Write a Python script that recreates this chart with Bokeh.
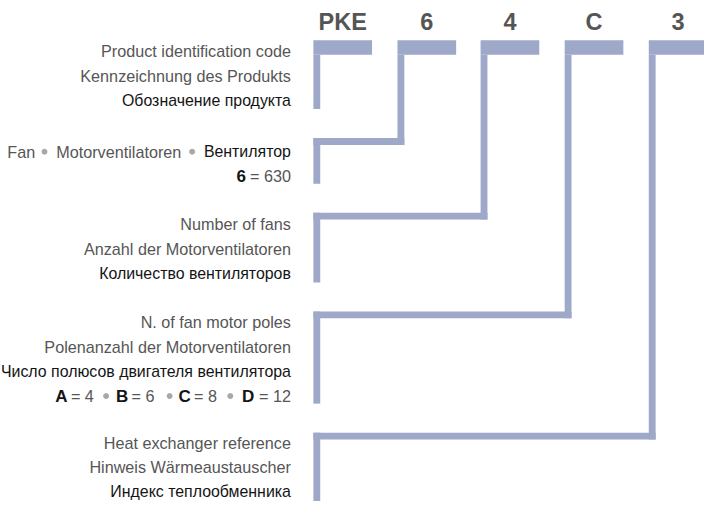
from bokeh.plotting import figure
from bokeh.models import Range1d
from bokeh.core.properties import value
from bokeh.embed import file_html
from bokeh.resources import INLINE

# ---- content ----
codes = ["PKE", "6", "4", "C", "3"]
desc_en = ["Product identification code", None, "Number of fans",
           "N. of fan motor poles", "Heat exchanger reference"]
desc_de = ["Kennzeichnung des Produkts", None, "Anzahl der Motorventilatoren",
           "Polenanzahl der Motorventilatoren", "Hinweis Wärmeaustauscher"]
desc_ru = ["Обозначение продукта", None, "Количество вентиляторов",
           "Число полюсов двигателя вентилятора", "Индекс теплообменника"]
fan_words = ["Fan", "Motorventilatoren", "Вентилятор"]
fan_size_key = ["6", "= 630"]
pole_keys = ["A", "B", "C", "D"]
pole_vals = ["= 4", "= 6", "= 8", "= 12"]

# ---- layout (reference pixel units) ----
BAR = "#9ea8c8"
GRAY = "#565656"
DARK = "#141414"
DOT = "#a8a8a8"
FONT = "Liberation Sans"
FS_L = "16.2px"   # latin light lines
FS_R = "15.9px"   # cyrillic lines
FS_B = "17px"     # bold keys

col_x = [320, 406, 491, 577, 663]
bar_w, bar_top, bar_bot, th = 60, 41, 56, 7
conn_y = [None, 142, 219, 321, 446]
end_y = [112, 189, 291, 416, 530]
group_y = [52, 156, 231, 332, 457]
pitch = [25.4, 25.4, 25.4, 25.4, 24.6]
text_right = 297

p = figure(width=704, height=501, output_backend="svg", toolbar_location=None,
           x_range=Range1d(0, 720), y_range=Range1d(517, 0), min_border=0)
p.axis.visible = False
p.grid.visible = False
p.outline_line_color = None
p.background_fill_color = "white"
p.border_fill_color = "white"

# bars
L, R, T, B = [], [], [], []
for i, cx in enumerate(col_x):
    L.append(cx); R.append(cx + bar_w); T.append(bar_top); B.append(bar_bot)
    if i == 0:
        L.append(320); R.append(320 + th); T.append(bar_bot); B.append(end_y[0])
    else:
        L.append(cx); R.append(cx + th); T.append(bar_bot); B.append(conn_y[i] + th)
        L.append(320); R.append(cx + th); T.append(conn_y[i]); B.append(conn_y[i] + th)
        L.append(320); R.append(320 + th); T.append(conn_y[i]); B.append(end_y[i])
p.quad(left=L, right=R, top=T, bottom=B, fill_color=BAR, line_color=None)

# code letters
p.text(x=[c + bar_w / 2 for c in col_x], y=[22] * 5, text=codes,
       text_font=value(FONT), text_font_style="bold", text_font_size="23.5px",
       text_color="#555555", text_align="center", text_baseline="middle")

# descriptions (right aligned)
gx, gy, gt, rx, ry, rt = [], [], [], [], [], []
for i in range(5):
    if desc_en[i] is None:
        continue
    y0 = group_y[i]
    gx += [text_right, text_right]; gy += [y0, y0 + pitch[i]]; gt += [desc_en[i], desc_de[i]]
    rx.append(text_right); ry.append(y0 + 2 * pitch[i]); rt.append(desc_ru[i])
p.text(x=gx, y=gy, text=gt, text_font=value(FONT), text_font_size=FS_L,
       text_color=GRAY, text_align="right", text_baseline="middle")
p.text(x=rx, y=ry, text=rt, text_font=value(FONT), text_font_size=FS_R,
       text_color=DARK, text_align="right", text_baseline="middle")

# fan line
fy = group_y[1]
p.text(x=[7, 57], y=[fy, fy], text=fan_words[:2], text_font=value(FONT), text_font_size=FS_L,
       text_color=GRAY, text_align="left", text_baseline="middle")
p.text(x=[text_right], y=[fy], text=[fan_words[2]], text_font=value(FONT), text_font_size=FS_R,
       text_color=DARK, text_align="right", text_baseline="middle")
p.scatter(x=[45, 196], y=[fy, fy], size=5, color=DOT, marker="circle")
fy2 = fy + pitch[1]
p.text(x=[251], y=[fy2], text=[fan_size_key[0]], text_font=value(FONT), text_font_size=FS_B,
       text_font_style="bold", text_color=DARK, text_align="right", text_baseline="middle")
p.text(x=[text_right], y=[fy2], text=[fan_size_key[1]], text_font=value(FONT), text_font_size=FS_L,
       text_color=GRAY, text_align="right", text_baseline="middle")

# poles line
py = group_y[3] + 3 * pitch[3]
key_x = [56, 118, 182, 247]
val_x = [72, 134, 198, 263]
p.text(x=key_x, y=[py] * 4, text=pole_keys, text_font=value(FONT), text_font_size=FS_B,
       text_font_style="bold", text_color=DARK, text_align="left", text_baseline="middle")
p.text(x=val_x[:3], y=[py] * 3, text=pole_vals[:3], text_font=value(FONT), text_font_size=FS_L,
       text_color=GRAY, text_align="left", text_baseline="middle")
p.text(x=[text_right], y=[py], text=[pole_vals[3]], text_font=value(FONT), text_font_size=FS_L,
       text_color=GRAY, text_align="right", text_baseline="middle")
p.scatter(x=[108, 173, 235], y=[py] * 3, size=5, color=DOT, marker="circle")

open("out.html", "w").write(file_html(p, INLINE))
